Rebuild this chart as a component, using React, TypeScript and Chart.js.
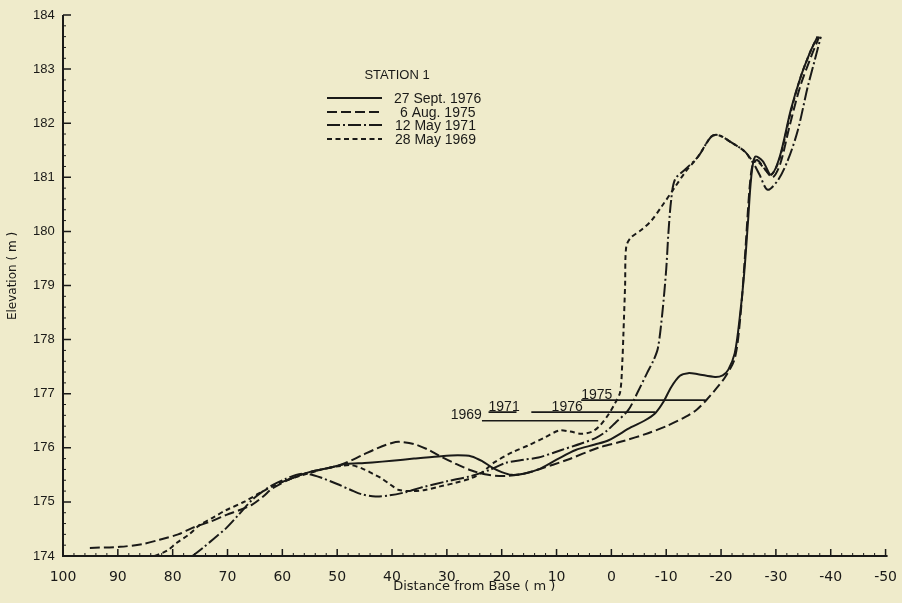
import React, { useEffect, useRef } from 'react';
import { Chart, registerables } from 'chart.js';

Chart.register(...registerables);

// ---------- data ----------
const xTickValues = [100, 90, 80, 70, 60, 50, 40, 30, 20, 10, 0, -10, -20, -30, -40, -50];
const xTickLabels = ['100', '90', '80', '70', '60', '50', '40', '30', '20', '10', '0', '-10', '-20', '-30', '-40', '-50'];
const yTickValues = [174, 175, 176, 177, 178, 179, 180, 181, 182, 183, 184];
const yTickLabels = ['174', '175', '176', '177', '178', '179', '180', '181', '182', '183', '184'];

// 27 Sept 1976 (solid)
const s1976X = [60.5, 58.2, 55.1, 51, 48.5, 45, 43.6, 40, 36, 31.5, 28, 25.5, 23.5, 21.8, 20, 18.2, 16, 13.3, 10, 6.5, 3, 0.5, -3.6, -6, -8, -9.5, -10.9, -12.5, -14, -15.8, -18.9, -20.3, -21.3, -22.5, -23.4, -24.2, -24.9, -25.5, -26.2, -27.6, -29.1, -30.7, -32.7, -34.5, -36.4, -37.6];
const s1976Y = [175.35, 175.44, 175.55, 175.64, 175.7, 175.72, 175.73, 175.76, 175.8, 175.84, 175.86, 175.84, 175.75, 175.64, 175.55, 175.5, 175.52, 175.6, 175.78, 175.96, 176.06, 176.14, 176.38, 176.5, 176.64, 176.85, 177.12, 177.33, 177.38, 177.36, 177.31, 177.34, 177.44, 177.75, 178.4, 179.2, 180.16, 181.0, 181.38, 181.3, 181.05, 181.38, 182.24, 182.85, 183.35, 183.6];

// 6 Aug 1975 (dashed)
const s1975X = [95.1, 89.6, 85.5, 82.4, 79, 76.4, 73, 70.2, 67.5, 65.5, 63.5, 61.8, 58.2, 55.1, 51, 48.5, 45.5, 42.5, 40, 38.7, 36, 33.5, 31.5, 28.5, 25.5, 22.5, 19.3, 16, 13.3, 8, 2.4, -2, -6.7, -10, -13.5, -15.5, -17.3, -19, -20.7, -22.5, -23.5, -24.4, -25.2, -25.8, -26.6, -28, -29.4, -30.8, -32.5, -34.5, -36.5, -37.9];
const s1975Y = [174.15, 174.17, 174.22, 174.3, 174.4, 174.52, 174.64, 174.76, 174.86, 174.95, 175.1, 175.25, 175.44, 175.55, 175.64, 175.72, 175.86, 176.0, 176.09, 176.11, 176.07, 175.97, 175.86, 175.71, 175.58, 175.5, 175.48, 175.52, 175.6, 175.78, 176.0, 176.12, 176.27, 176.4, 176.57, 176.7, 176.88, 177.08, 177.3, 177.65, 178.4, 179.6, 180.8, 181.25, 181.32, 181.15, 181.0, 181.25, 181.95, 182.7, 183.25, 183.6];

// 12 May 1971 (dash-dot)
const s1971X = [76.4, 74.5, 72.5, 70.2, 68, 65.5, 63.5, 61.8, 59.5, 57.5, 55.6, 53, 50, 47.5, 45.5, 43, 40.5, 37.5, 34.5, 30, 25.5, 22, 19.3, 16, 13.3, 9.1, 5.5, 2.9, 1, -0.7, -3.1, -4.9, -6.5, -7.7, -8.5, -9.3, -10.0, -10.4, -10.9, -11.6, -13.5, -15.8, -18.2, -19.5, -21.8, -24.4, -25.8, -27, -28.5, -30.4, -32.2, -34, -35.8, -37.1, -38.2];
const s1971Y = [174.0, 174.15, 174.32, 174.52, 174.76, 175.04, 175.2, 175.31, 175.42, 175.5, 175.52, 175.45, 175.33, 175.22, 175.14, 175.1, 175.12, 175.18, 175.27, 175.38, 175.48, 175.6, 175.72, 175.78, 175.82, 175.96, 176.08, 176.18, 176.3, 176.46, 176.7, 177.05, 177.38, 177.62, 177.85, 178.5, 179.3, 179.97, 180.58, 180.96, 181.15, 181.38, 181.75, 181.78, 181.65, 181.47, 181.28, 181.05, 180.77, 180.95, 181.32, 181.87, 182.67, 183.17, 183.6];

// 28 May 1969 (short dash)
const s1969X = [83.3, 81, 79.3, 77, 75.1, 72.5, 70.2, 67, 64.2, 60.5, 57.5, 55.1, 52, 49, 47.5, 45.5, 43.5, 42, 40.3, 38.7, 36.5, 34, 31.5, 28.5, 25.5, 23.5, 21.5, 18, 15, 12, 9.5, 7.5, 5.5, 3.5, 2, 0.5, -0.7, -1.6, -2.0, -2.2, -2.5, -2.7, -3.5, -5.5, -7.3, -9.1, -11.6, -13.5, -15.8, -18.2, -19.5, -21.8, -24.4, -25.8, -26.6, -28, -29.2, -30.7, -32.7, -34.5, -36.4, -37.6];
const s1969Y = [174.0, 174.1, 174.24, 174.4, 174.57, 174.72, 174.85, 175.0, 175.16, 175.35, 175.46, 175.53, 175.62, 175.67, 175.68, 175.62, 175.52, 175.44, 175.32, 175.22, 175.2, 175.22, 175.28, 175.35, 175.44, 175.55, 175.72, 175.92, 176.05, 176.2, 176.32, 176.3, 176.26, 176.3, 176.42, 176.62, 176.83, 177.03, 177.6, 178.12, 179.0, 179.71, 179.88, 180.03, 180.2, 180.45, 180.82, 181.1, 181.38, 181.75, 181.78, 181.65, 181.47, 181.28, 181.3, 181.15, 181.05, 181.35, 182.2, 182.85, 183.35, 183.6];

// water levels at time of survey
const waterYears = ['1969', '1971', '1976', '1975'];
const waterLevels = [176.5, 176.66, 176.66, 176.88];
const waterStartX = [23.6, 22.4, 14.6, 5.5];
const waterEndX = [2.4, 17.3, -8.0, -17.2];
const waterLabelX = [29.3, 22.4, 10.9, 5.5];

const legendNames = ['27 Sept. 1976', '6 Aug. 1975', '12 May 1971', '28 May 1969'];
const stationName = 'STATION 1';
const xTitle = 'Distance from Base ( m )';
const yTitle = 'Elevation ( m )';

// ---------- styles ----------
const INK = '#1a1a18';
const PAPER = '#efebcb';
const DASHES: number[][] = [[], [10, 4], [13, 3, 2, 3], [5, 3.5]];
const LW = 2;

const pts = (xs: number[], ys: number[]) => xs.map((x, i) => ({ x, y: ys[i] }));

const decorPlugin = {
  id: 'decor',
  beforeDraw(chart: any) {
    const { ctx, width, height } = chart;
    ctx.save();
    ctx.fillStyle = PAPER;
    ctx.fillRect(0, 0, width, height);
    ctx.restore();
  },
  afterDraw(chart: any) {
    const { ctx } = chart;
    const xs = chart.scales.x;
    const ys = chart.scales.y;
    const x0 = xs.getPixelForValue(100);
    const x1 = xs.getPixelForValue(-50);
    const y0 = ys.getPixelForValue(174);
    const y1 = ys.getPixelForValue(184);
    ctx.save();
    ctx.strokeStyle = INK;
    ctx.fillStyle = INK;
    ctx.setLineDash([]);
    // axes
    ctx.lineWidth = 2;
    ctx.beginPath();
    ctx.moveTo(x0, y1);
    ctx.lineTo(x0, y0);
    ctx.lineTo(x1 + 2, y0);
    ctx.stroke();
    // major ticks (inward)
    ctx.lineWidth = 1.5;
    ctx.beginPath();
    yTickValues.forEach((v) => {
      const p = ys.getPixelForValue(v);
      ctx.moveTo(x0, p);
      ctx.lineTo(x0 + 8, p);
    });
    xTickValues.forEach((v) => {
      const p = xs.getPixelForValue(v);
      ctx.moveTo(p, y0);
      ctx.lineTo(p, y0 - 7);
    });
    ctx.stroke();
    // minor ticks
    ctx.lineWidth = 1;
    ctx.beginPath();
    for (let v = 100; v >= -50; v -= 2) {
      if (v % 10 === 0) continue;
      const p = xs.getPixelForValue(v);
      ctx.moveTo(p, y0);
      ctx.lineTo(p, y0 - 3);
    }
    for (let k = 0; k <= 50; k++) {
      if (k % 5 === 0) continue;
      const p = ys.getPixelForValue(174 + k * 0.2);
      ctx.moveTo(x0, p);
      ctx.lineTo(x0 + 3, p);
    }
    ctx.stroke();

    // water level labels
    ctx.font = '14px "Liberation Sans", Arial, sans-serif';
    ctx.textAlign = 'left';
    ctx.textBaseline = 'alphabetic';
    waterYears.forEach((t, i) => {
      ctx.fillText(t, xs.getPixelForValue(waterLabelX[i]), ys.getPixelForValue(waterLevels[i]) - 1.5);
    });

    // legend
    ctx.textAlign = 'center';
    ctx.textBaseline = 'middle';
    ctx.font = '13px "Liberation Sans", Arial, sans-serif';
    ctx.fillText(stationName, 397, 75);
    const rowY = [98, 112, 125, 139];
    const textX = [394, 400, 395, 395];
    ctx.textAlign = 'left';
    ctx.font = '14px "Liberation Sans", Arial, sans-serif';
    legendNames.forEach((n, i) => {
      ctx.lineWidth = LW;
      ctx.setLineDash(DASHES[i]);
      ctx.beginPath();
      ctx.moveTo(327, rowY[i]);
      ctx.lineTo(382, rowY[i]);
      ctx.stroke();
      ctx.setLineDash([]);
      ctx.fillText(n, textX[i], rowY[i] + 1);
    });

    // y title
    ctx.save();
    ctx.translate(13, 276);
    ctx.rotate(-Math.PI / 2);
    ctx.textAlign = 'center';
    ctx.textBaseline = 'middle';
    ctx.font = '12px "DejaVu Sans", sans-serif';
    ctx.fillText(yTitle, 0, 0);
    ctx.restore();
    ctx.restore();
  },
};

export default function App() {
  const ref = useRef<HTMLCanvasElement | null>(null);
  useEffect(() => {
    if (!ref.current) return;
    const profiles = [
      { label: legendNames[0], data: pts(s1976X, s1976Y), dash: DASHES[0] },
      { label: legendNames[1], data: pts(s1975X, s1975Y), dash: DASHES[1] },
      { label: legendNames[2], data: pts(s1971X, s1971Y), dash: DASHES[2] },
      { label: legendNames[3], data: pts(s1969X, s1969Y), dash: DASHES[3] },
    ];
    const datasets: any[] = profiles.map((p) => ({
      label: p.label,
      data: p.data,
      borderColor: INK,
      borderWidth: LW,
      borderDash: p.dash,
      pointRadius: 0,
      tension: 0.3,
      fill: false,
    }));
    waterYears.forEach((yr, i) => {
      datasets.push({
        label: 'water ' + yr,
        data: [
          { x: waterStartX[i], y: waterLevels[i] },
          { x: waterEndX[i], y: waterLevels[i] },
        ],
        borderColor: INK,
        borderWidth: 1.7,
        pointRadius: 0,
        tension: 0,
        fill: false,
      });
    });

    const chart = new Chart(ref.current, {
      type: 'line',
      data: { datasets },
      options: {
        animation: false,
        responsive: false,
        devicePixelRatio: 1,
        layout: { padding: { left: 33, right: 14, top: 15, bottom: 0 } },
        plugins: { legend: { display: false }, tooltip: { enabled: false } },
        scales: {
          x: {
            type: 'linear',
            reverse: true,
            min: -50,
            max: 100,
            grid: { display: false },
            border: { display: false },
            afterBuildTicks: (scale: any) => {
              scale.ticks = xTickValues.map((v) => ({ value: v }));
            },
            afterFit: (scale: any) => {
              scale.height = 47;
            },
            ticks: {
              autoSkip: false,
              maxRotation: 0,
              padding: 5,
              color: INK,
              font: { family: '"DejaVu Sans", sans-serif', size: 14 },
              callback: (value: any) => {
                const i = xTickValues.indexOf(Number(value));
                return i >= 0 ? xTickLabels[i] : '';
              },
            },
            title: {
              display: true,
              text: xTitle,
              color: INK,
              font: { family: '"DejaVu Sans", sans-serif', size: 13 },
              padding: { top: 0, bottom: 9 },
            },
          },
          y: {
            type: 'linear',
            min: 174,
            max: 184,
            grid: { display: false },
            border: { display: false },
            afterBuildTicks: (scale: any) => {
              scale.ticks = yTickValues.map((v) => ({ value: v }));
            },
            afterFit: (scale: any) => {
              scale.width = 30;
            },
            ticks: {
              autoSkip: false,
              crossAlign: 'far',
              color: INK,
              font: { family: '"Liberation Sans", Arial, sans-serif', size: 13 },
              callback: (value: any) => {
                const i = yTickValues.indexOf(Number(value));
                return i >= 0 ? yTickLabels[i] : '';
              },
            },
          },
        },
      },
      plugins: [decorPlugin],
    } as any);
    return () => chart.destroy();
  }, []);

  return (
    <div style={{ position: 'fixed', left: 0, top: 0, width: 902, height: 603, background: PAPER }}>
      <canvas ref={ref} width={902} height={603} style={{ display: 'block' }} />
    </div>
  );
}
